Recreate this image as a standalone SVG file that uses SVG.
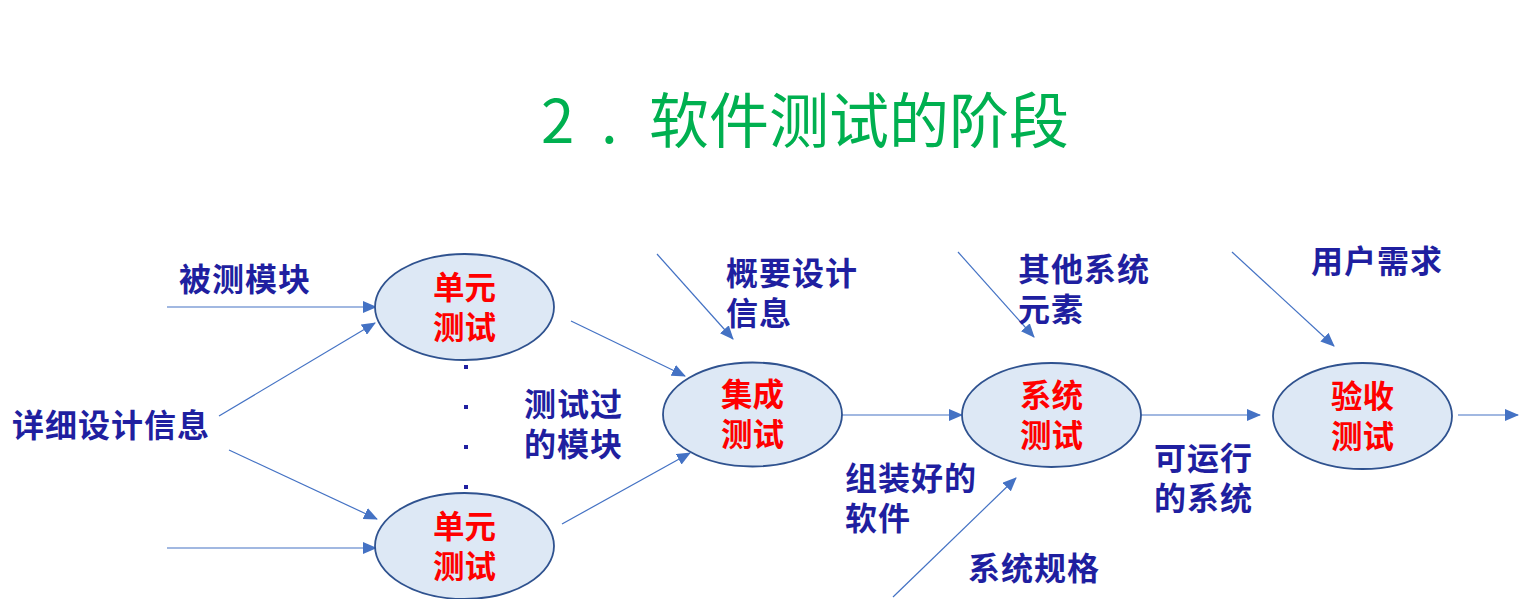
<svg xmlns="http://www.w3.org/2000/svg" width="1519" height="599" viewBox="0 0 1519 599">
<style>
.title{font-family:"Noto Sans CJK SC","Noto Sans",sans-serif;font-size:60px;fill:#00b050;}
.node ellipse{fill:#dde8f5;stroke:#2f528f;stroke-width:1.8;}
.ntext{font-family:"Noto Sans CJK SC",sans-serif;font-size:31.5px;font-weight:bold;fill:#ff0000;text-anchor:middle;}
.label{font-family:"Noto Sans CJK SC",sans-serif;font-size:32px;font-weight:bold;fill:#1f1fa0;letter-spacing:1px;}
.conn line{stroke:#4472c4;stroke-width:1.2;marker-end:url(#arr);}
.dot{fill:#1f1fa0;}
</style>
<defs>
<marker id="arr" markerUnits="userSpaceOnUse" markerWidth="14" markerHeight="12" refX="13" refY="6" orient="auto">
<path d="M0,0 L14,6 L0,12 Z" fill="#4472c4"/>
</marker>
</defs>
<rect width="1519" height="599" fill="#ffffff"/>
<text class="title" y="143"><tspan x="541">2</tspan><tspan x="601">.</tspan><tspan x="649">软件测试的阶段</tspan></text>

<g class="conn" id="connectors">
<line x1="167" y1="307" x2="376" y2="307"/>
<line x1="219" y1="416" x2="375" y2="323"/>
<line x1="229" y1="450" x2="377" y2="519"/>
<line x1="167" y1="548" x2="376" y2="548"/>
<line x1="571" y1="321" x2="685" y2="376"/>
<line x1="562" y1="524" x2="690" y2="453"/>
<line x1="657" y1="254" x2="733" y2="339"/>
<line x1="842" y1="415" x2="962" y2="415"/>
<line x1="958" y1="252" x2="1034" y2="337"/>
<line x1="1141" y1="415" x2="1260" y2="415"/>
<line x1="893" y1="597" x2="1016" y2="478"/>
<line x1="1232" y1="252" x2="1334" y2="346"/>
<line x1="1458" y1="415" x2="1518" y2="415"/>
</g>

<g class="node" id="unit1">
<ellipse cx="464.5" cy="307" rx="89.5" ry="53"/>
<text class="ntext"><tspan x="464.5" y="299">单元</tspan><tspan x="464.5" y="339">测试</tspan></text>
</g>
<g class="node" id="unit2">
<ellipse cx="464.5" cy="546" rx="89.5" ry="53"/>
<text class="ntext"><tspan x="464.5" y="538">单元</tspan><tspan x="464.5" y="578">测试</tspan></text>
</g>
<g class="node" id="integration">
<ellipse cx="752.5" cy="414.5" rx="89.5" ry="52"/>
<text class="ntext"><tspan x="752.5" y="406">集成</tspan><tspan x="752.5" y="446">测试</tspan></text>
</g>
<g class="node" id="system">
<ellipse cx="1051.5" cy="415" rx="89.5" ry="52"/>
<text class="ntext"><tspan x="1051.5" y="407">系统</tspan><tspan x="1051.5" y="447">测试</tspan></text>
</g>
<g class="node" id="acceptance">
<ellipse cx="1362.5" cy="416" rx="89.5" ry="53"/>
<text class="ntext"><tspan x="1362.5" y="408">验收</tspan><tspan x="1362.5" y="448">测试</tspan></text>
</g>

<g id="dots">
<rect class="dot" x="464" y="365" width="4" height="4"/>
<rect class="dot" x="464" y="405" width="4" height="4"/>
<rect class="dot" x="464" y="445" width="4" height="4"/>
<rect class="dot" x="464" y="485" width="4" height="4"/>
</g>

<g id="labels">
<text class="label" x="179" y="291">被测模块</text>
<text class="label" x="12" y="437">详细设计信息</text>
<text class="label"><tspan x="524" y="416">测试过</tspan><tspan x="524" y="456">的模块</tspan></text>
<text class="label"><tspan x="726" y="285">概要设计</tspan><tspan x="726" y="325">信息</tspan></text>
<text class="label"><tspan x="1018" y="281">其他系统</tspan><tspan x="1018" y="321">元素</tspan></text>
<text class="label" x="1311" y="273">用户需求</text>
<text class="label"><tspan x="845" y="490">组装好的</tspan><tspan x="845" y="530">软件</tspan></text>
<text class="label"><tspan x="1154" y="470">可运行</tspan><tspan x="1154" y="510">的系统</tspan></text>
<text class="label" x="968" y="580">系统规格</text>
</g>
</svg>
